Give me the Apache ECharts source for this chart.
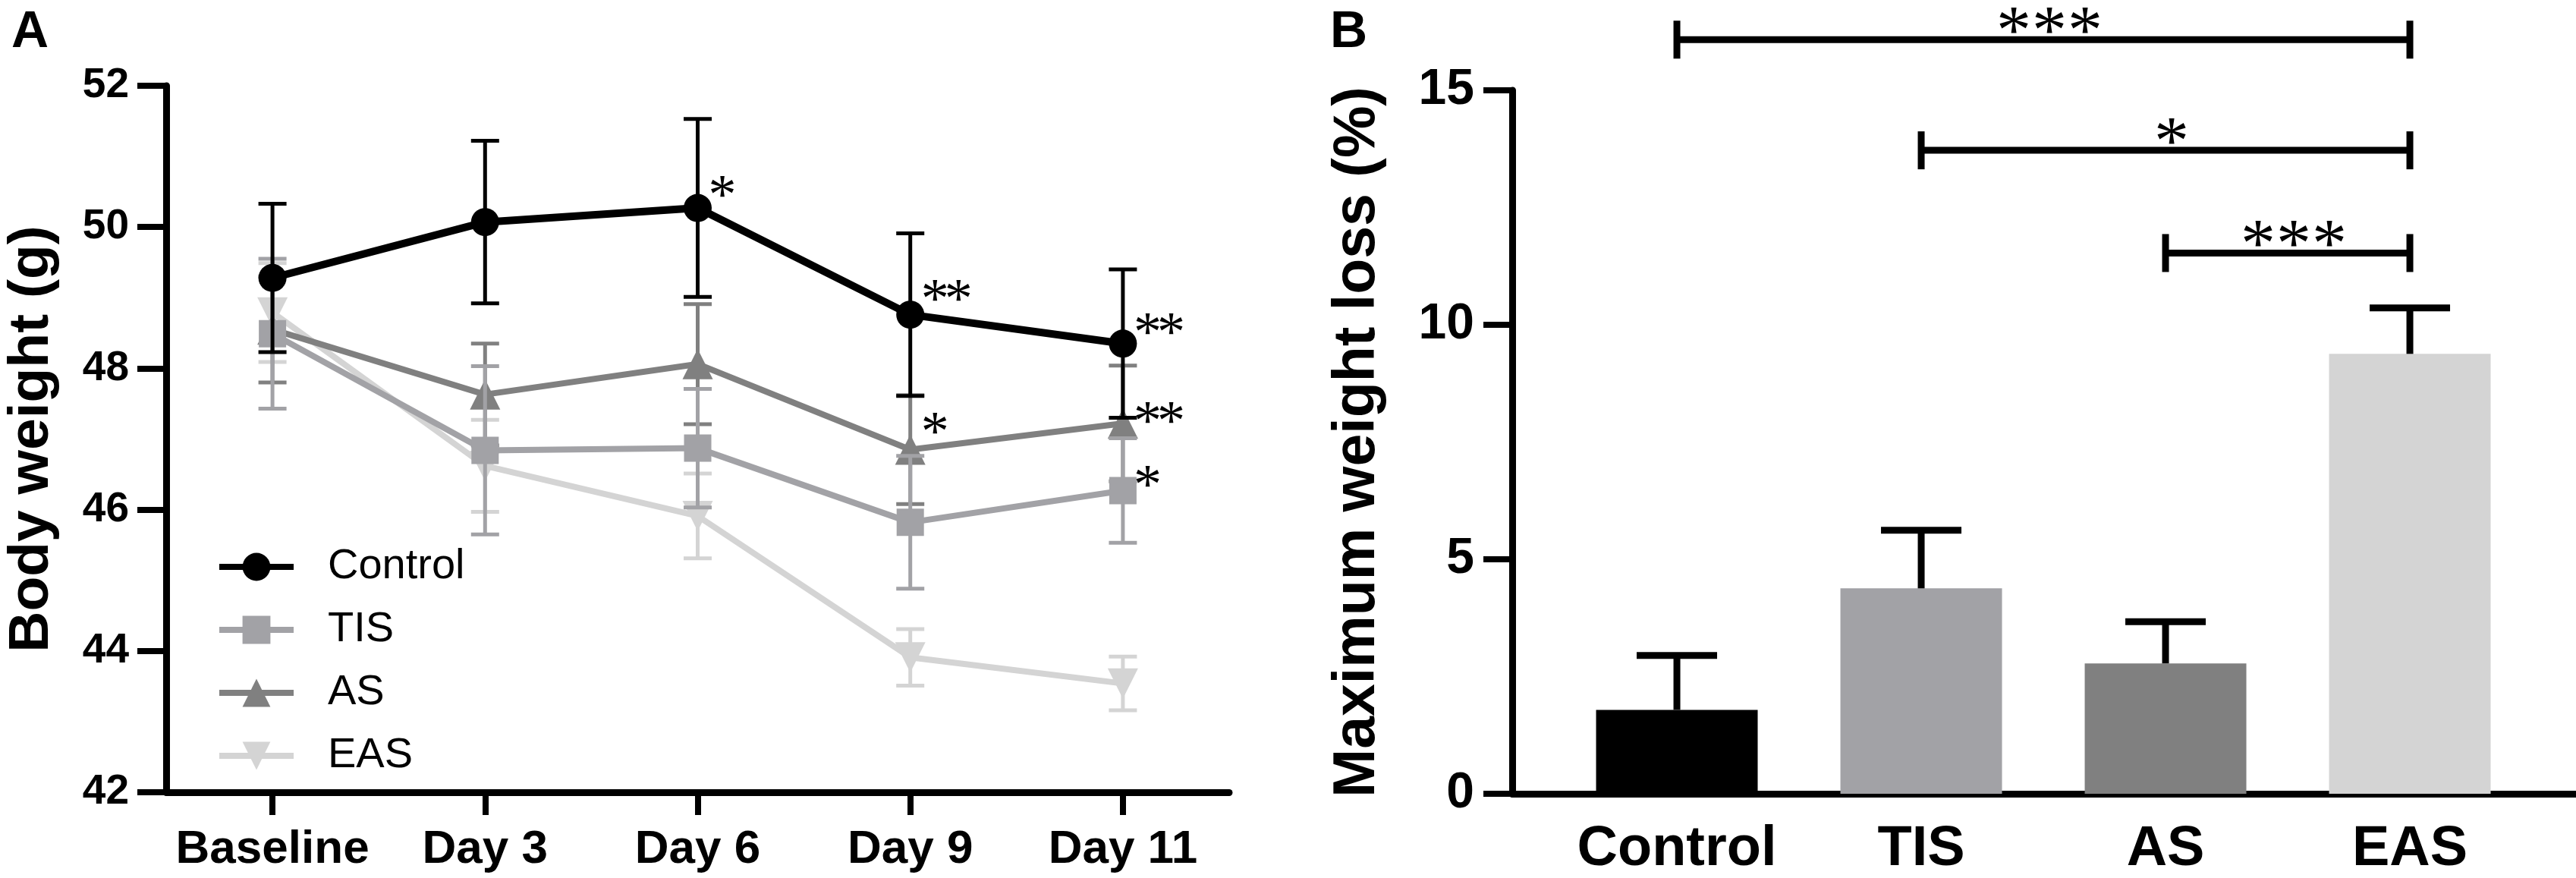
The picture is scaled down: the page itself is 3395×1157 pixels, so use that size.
<!DOCTYPE html>
<html>
<head>
<meta charset="utf-8">
<script src="https://cdn.jsdelivr.net/npm/echarts@6/dist/echarts.min.js"></script>
<style>
  html, body { margin: 0; padding: 0; background: #fff; }
  #chart { width: 3395px; height: 1157px; }
</style>
</head>
<body>
<div id="chart"></div>
<script>
// ---- panel A: body weight over time ----
const days = ['Baseline', 'Day 3', 'Day 6', 'Day 9', 'Day 11'];
const groups = ['Control', 'TIS', 'AS', 'EAS'];

const controlMean = [49.28, 50.07, 50.27, 48.76, 48.35];
const controlSD   = [1.05, 1.15, 1.26, 1.15, 1.05];
const tisMean     = [48.49, 46.84, 46.87, 45.82, 46.27];
const tisSD       = [1.06, 1.19, 0.84, 0.94, 0.74];
const asMean      = [48.55, 47.63, 48.06, 46.85, 47.22];
const asSD        = [0.75, 0.72, 0.85, 0.77, 0.82];
const easMean     = [48.79, 46.62, 45.91, 43.91, 43.54];
const easSD       = [0.70, 0.65, 0.60, 0.40, 0.38];

// significance marks in panel A (day, weight where the mark sits, text)
const starsDay  = ['Day 6', 'Day 9', 'Day 9', 'Day 11', 'Day 11', 'Day 11'];
const starsY    = [50.58, 49.11, 47.23, 48.64, 47.38, 46.48];
const starsText = ['*', '**', '*', '**', '**', '*'];

// ---- panel B: maximum weight loss ----
const lossCats = ['Control', 'TIS', 'AS', 'EAS'];
const lossMean = [1.79, 4.38, 2.78, 9.38];
const lossSD   = [1.16, 1.24, 0.89, 0.98];

// brackets in panel B
const bracketFrom = [0, 1, 2];
const bracketTo   = [3, 3, 3];
const bracketY    = [16.08, 13.72, 11.53];
const bracketText = ['***', '*', '***'];

const colors = { Control: '#000000', TIS: '#a2a2a6', AS: '#808080', EAS: '#d4d4d4' };
const symbols = { Control: 'circle', TIS: 'rect', AS: 'triangle', EAS: 'triangle' };
const FONT = 'Liberation Sans';
const STAR_FONT = 'Liberation Serif';

const groupData = {
  Control: [controlMean, controlSD],
  TIS: [tisMean, tisSD],
  AS: [asMean, asSD],
  EAS: [easMean, easSD]
};

function errorBars(capW, lw, onlyUp) {
  return function (params, api) {
    const x = api.value(0);
    const lo = api.coord([x, api.value(1)]);
    const hi = api.coord([x, api.value(2)]);
    const style = { stroke: api.visual('color'), lineWidth: lw };
    const kids = [
      { type: 'line', shape: { x1: lo[0], y1: lo[1], x2: hi[0], y2: hi[1] }, style },
      { type: 'line', shape: { x1: hi[0] - capW / 2, y1: hi[1], x2: hi[0] + capW / 2, y2: hi[1] }, style }
    ];
    if (!onlyUp) {
      kids.push({ type: 'line', shape: { x1: lo[0] - capW / 2, y1: lo[1], x2: lo[0] + capW / 2, y2: lo[1] }, style });
    }
    return { type: 'group', children: kids };
  };
}

// asterisks drawn one by one so the spacing can follow the original
function stars(text, x, y, center, size, pitch) {
  const chars = text.split('');
  const start = center ? x - chars.length * pitch / 2 : x;
  return chars.map((c, k) => ({
    type: 'text',
    style: {
      text: c, x: start + pitch * (k + 0.5), y: y + size * 0.22,
      align: 'center', verticalAlign: 'middle',
      fontSize: size, fontFamily: STAR_FONT, fill: '#000'
    }
  }));
}

const series = [];
// drawn bottom to top: EAS, AS, TIS, Control
['EAS', 'AS', 'TIS', 'Control'].forEach((g, k) => {
  const [mean, sd] = groupData[g];
  series.push({
    name: g + ' SD',
    type: 'custom',
    xAxisIndex: 0, yAxisIndex: 0,
    z: 2 + k * 2,
    itemStyle: { color: colors[g] },
    renderItem: errorBars(37, 5, false),
    encode: { x: 0, y: [1, 2] },
    data: mean.map((m, i) => [i, m - sd[i], m + sd[i]]),
    silent: true
  });
  series.push({
    name: g,
    type: 'line',
    xAxisIndex: 0, yAxisIndex: 0,
    z: 3 + k * 2,
    data: mean,
    symbol: symbols[g],
    symbolSize: g === 'Control' ? 37 : (symbols[g] === 'rect' ? 36 : 40),
    symbolRotate: g === 'EAS' ? 180 : 0,
    showAllSymbol: true,
    lineStyle: { color: colors[g], width: g === 'Control' ? 10 : 8 },
    itemStyle: { color: colors[g], opacity: 1 },
    emphasis: { disabled: true }
  });
});

series.push({
  name: 'stars A',
  type: 'custom',
  xAxisIndex: 0, yAxisIndex: 0,
  z: 20,
  clip: false,
  renderItem: function (params, api) {
    const i = params.dataIndex;
    const p = api.coord([days.indexOf(starsDay[i]), starsY[i]]);
    return { type: 'group', children: stars(starsText[i], p[0] + 17, p[1], false, 74, 31) };
  },
  data: starsText.map((t, i) => [days.indexOf(starsDay[i]), starsY[i]]),
  silent: true
});

series.push({
  name: 'loss',
  type: 'bar',
  xAxisIndex: 1, yAxisIndex: 1,
  barWidth: 213,
  data: lossMean.map((v, i) => ({ value: [i, v], itemStyle: { color: colors[lossCats[i]] } })),
  emphasis: { disabled: true },
  z: 2
});

series.push({
  name: 'loss SD',
  type: 'custom',
  xAxisIndex: 1, yAxisIndex: 1,
  z: 3,
  itemStyle: { color: '#000' },
  renderItem: errorBars(106, 9, true),
  encode: { x: 0, y: [1, 2] },
  data: lossMean.map((m, i) => [i, m, m + lossSD[i]]),
  silent: true
});

series.push({
  name: 'brackets',
  type: 'custom',
  xAxisIndex: 1, yAxisIndex: 1,
  z: 4,
  clip: false,
  renderItem: function (params, api) {
    const i = params.dataIndex;
    const a = api.coord([bracketFrom[i], bracketY[i]]);
    const b = api.coord([bracketTo[i], bracketY[i]]);
    const style = { stroke: '#000', lineWidth: 9 };
    return {
      type: 'group',
      children: [
        { type: 'line', shape: { x1: a[0], y1: a[1], x2: b[0], y2: b[1] }, style },
        { type: 'line', shape: { x1: a[0], y1: a[1] - 25, x2: a[0], y2: a[1] + 25 }, style },
        { type: 'line', shape: { x1: b[0], y1: b[1] - 25, x2: b[0], y2: b[1] + 25 }, style }
      ].concat(stars(bracketText[i], (a[0] + b[0]) / 2 + 8, a[1] - 27, true, 92, 47))
    };
  },
  encode: { x: 0, y: 2 },
  data: bracketY.map((y, i) => [bracketFrom[i], bracketTo[i], y]),
  silent: true
});

const axisLine = { show: true, onZero: false, lineStyle: { color: '#000', width: 9 } };
const tickStyle = { color: '#000', width: 8 };

const option = {
  animation: false,
  backgroundColor: '#fff',
  title: [
    { text: 'A', left: 10, top: 4, textStyle: { fontSize: 68, fontWeight: 'bold', fontFamily: FONT, color: '#000' } },
    { text: 'B', left: 1748, top: 4, textStyle: { fontSize: 68, fontWeight: 'bold', fontFamily: FONT, color: '#000' } }
  ],
  legend: {
    data: groups,
    orient: 'vertical',
    left: 280,
    top: 714,
    itemWidth: 98,
    itemHeight: 46,
    itemGap: 27,
    selectedMode: false,
    lineStyle: { width: 8 },
    textStyle: { fontSize: 56, fontFamily: FONT, color: '#000', padding: [0, 0, 0, 40] }
  },
  grid: [
    { left: 219, top: 113, width: 1401, height: 931 },
    { left: 1993, top: 119, width: 1402, height: 929 }
  ],
  xAxis: [
    {
      gridIndex: 0, type: 'category', data: days, boundaryGap: true,
      axisLine: axisLine,
      axisTick: { show: true, alignWithLabel: true, interval: 0, length: 30, lineStyle: tickStyle },
      axisLabel: { interval: 0, margin: 45, fontSize: 62, fontWeight: 'bold', fontFamily: FONT, color: '#000' },
      splitLine: { show: false }
    },
    {
      gridIndex: 1, type: 'value', min: -0.674, max: 3.68,
      axisLine: axisLine,
      axisTick: { show: false },
      axisLabel: {
        customValues: [0, 1, 2, 3],
        formatter: v => lossCats[v],
        margin: 37, fontSize: 74, fontWeight: 'bold', fontFamily: FONT, color: '#000'
      },
      splitLine: { show: false }
    }
  ],
  yAxis: [
    {
      gridIndex: 0, type: 'value', min: 42, max: 52, interval: 2,
      name: 'Body weight (g)', nameLocation: 'middle', nameGap: 139,
      nameTextStyle: { fontSize: 75, fontWeight: 'bold', fontFamily: FONT, color: '#000' },
      axisLine: axisLine,
      axisTick: { show: true, length: 38, lineStyle: tickStyle },
      axisLabel: { margin: 49, fontSize: 55, fontWeight: 'bold', fontFamily: FONT, color: '#000' },
      splitLine: { show: false }
    },
    {
      gridIndex: 1, type: 'value', min: 0, max: 15, interval: 5,
      name: 'Maximum weight loss (%)', nameLocation: 'middle', nameGap: 165,
      nameTextStyle: { fontSize: 77, fontWeight: 'bold', fontFamily: FONT, color: '#000' },
      axisLine: axisLine,
      axisTick: { show: true, length: 38, lineStyle: tickStyle },
      axisLabel: { margin: 50, fontSize: 66, fontWeight: 'bold', fontFamily: FONT, color: '#000' },
      splitLine: { show: false }
    }
  ],
  series: series
};

const chart = echarts.init(document.getElementById('chart'));
chart.setOption(option);
window.addEventListener('resize', () => chart.resize());
</script>
</body>
</html>
